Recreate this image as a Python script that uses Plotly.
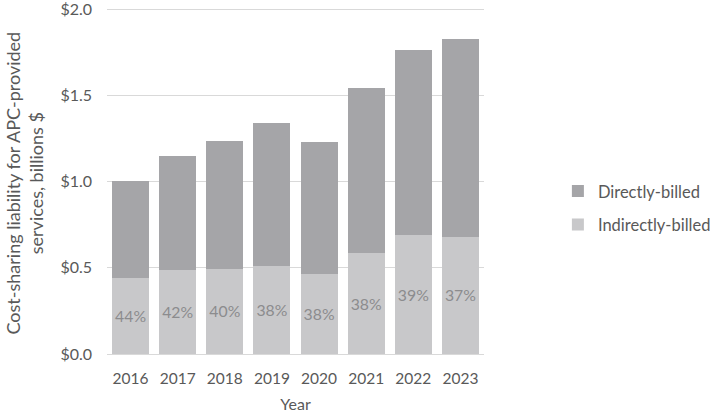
import plotly.graph_objects as go

years = ["2016", "2017", "2018", "2019", "2020", "2021", "2022", "2023"]
indirect = [0.44, 0.487, 0.494, 0.512, 0.463, 0.584, 0.69, 0.68]
total = [1.004, 1.149, 1.237, 1.343, 1.229, 1.543, 1.762, 1.83]
direct = [t - i for t, i in zip(total, indirect)]
pct_labels = ["44%", "42%", "40%", "38%", "38%", "38%", "39%", "37%"]
y_title = "Cost-sharing liability for APC-provided<br>services, billions $"

FONT = "Lato, 'Open Sans', sans-serif"
TXT = "#595959"

fig = go.Figure()
fig.add_trace(go.Bar(
    x=years, y=indirect, name="Indirectly-billed",
    legendgroup="b", legendrank=2,
    marker=dict(color="#C8C8CA", line=dict(width=0)),
    text=pct_labels, textposition="inside", insidetextanchor="middle",
    textfont=dict(family=FONT, size=17, color="#8C8C8E"),
    textangle=0, hoverinfo="skip",
))
fig.add_trace(go.Bar(
    x=years, y=direct, name="Directly-billed",
    legendgroup="a", legendrank=1,
    marker=dict(color="#A5A5A8", line=dict(width=0)),
    hoverinfo="skip",
))

fig.update_layout(
    barmode="stack",
    bargap=0.215,
    width=712, height=413,
    margin=dict(l=107, r=228, t=5.5, b=59, autoexpand=False),
    paper_bgcolor="white", plot_bgcolor="white",
    font=dict(family=FONT, color=TXT, size=15),
    uniformtext=dict(mode="show", minsize=10),
    legend=dict(
        x=1.196, y=0.42, xanchor="left", yanchor="middle",
        traceorder="grouped",
        font=dict(size=16.5, color=TXT, family=FONT),
        itemwidth=30, tracegroupgap=9,
        bgcolor="rgba(0,0,0,0)",
    ),
    showlegend=True,
)
fig.add_annotation(
    text=y_title, textangle=-90, showarrow=False,
    xref="paper", yref="paper", x=0, y=0.49,
    xanchor="center", yanchor="middle", xshift=-83,
    font=dict(size=18, color=TXT, family=FONT),
)
fig.update_xaxes(
    type="category", automargin=False,
    showline=True, linecolor="#D9D9D9", linewidth=1,
    ticks="", tickfont=dict(size=15.5, color=TXT),
    ticklabelstandoff=10,
    title=dict(text="Year", font=dict(size=16, color=TXT), standoff=15),
)
fig.update_yaxes(
    range=[0, 2.02], tickvals=[0, 0.5, 1.0, 1.5, 2.0], tickformat="$.1f",
    automargin=False, ticklabeloverflow="allow",
    showgrid=True, gridcolor="#D9D9D9", gridwidth=1,
    zeroline=False, showline=False, ticks="",
    tickfont=dict(size=16, color=TXT),
    ticklabelstandoff=14,
)

fig.write_html("out.html")
